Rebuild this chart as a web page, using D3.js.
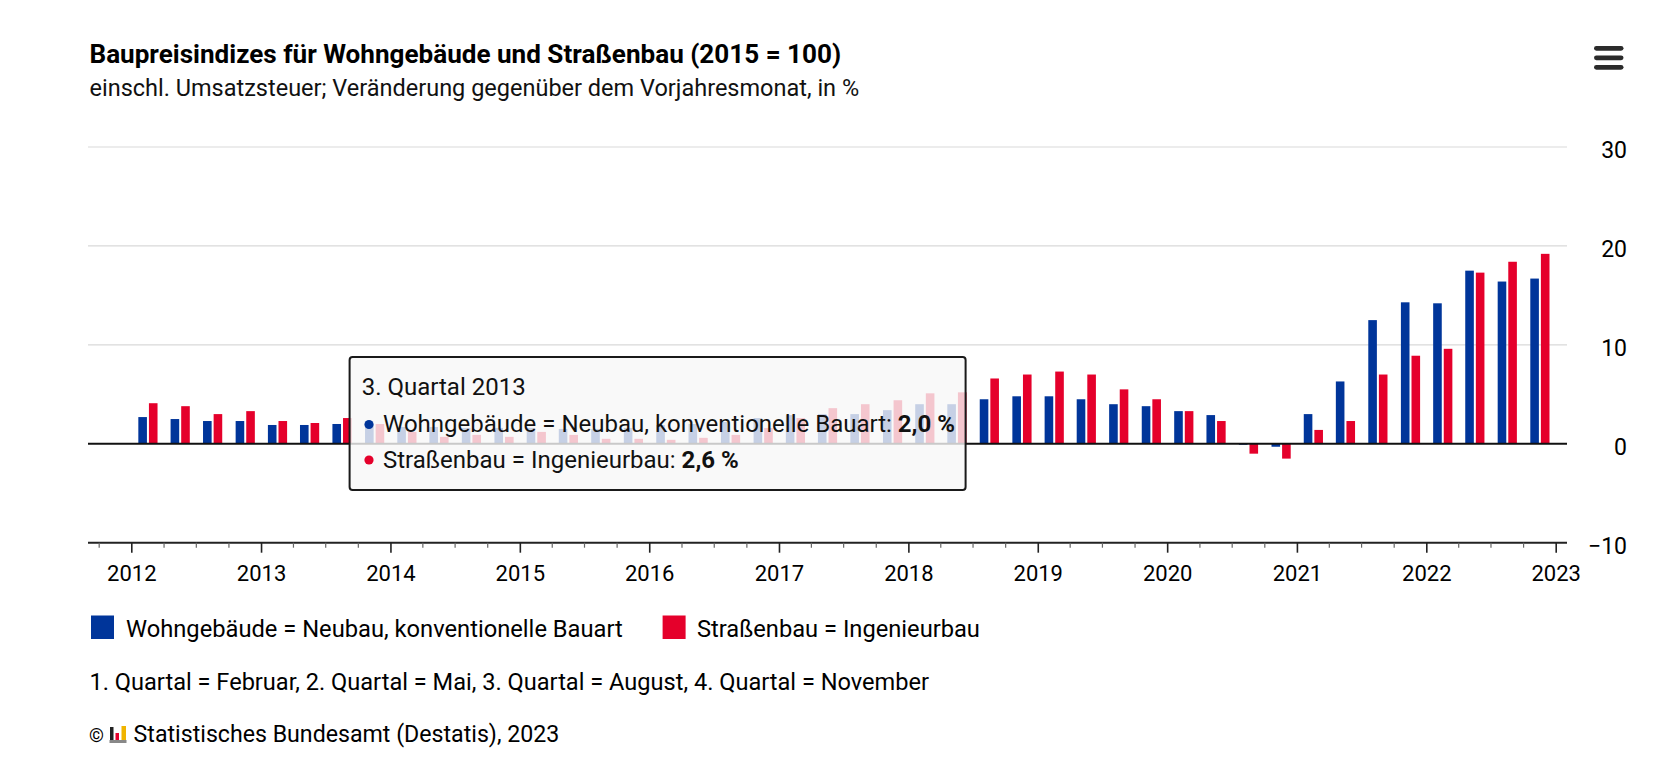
<!DOCTYPE html>
<html><head><meta charset="utf-8">
<script src="https://cdn.jsdelivr.net/npm/d3@7"></script>
<style>
html,body{margin:0;padding:0;background:#fff;}
svg{display:block;font-family:Roboto,"Noto Sans",sans-serif;}
</style>
</head><body>
<svg id="c" width="1671" height="780"></svg>
<script>
// ---------- data ----------
const categories = [
  "1. Quartal 2012","2. Quartal 2012","3. Quartal 2012","4. Quartal 2012",
  "1. Quartal 2013","2. Quartal 2013","3. Quartal 2013","4. Quartal 2013",
  "1. Quartal 2014","2. Quartal 2014","3. Quartal 2014","4. Quartal 2014",
  "1. Quartal 2015","2. Quartal 2015","3. Quartal 2015","4. Quartal 2015",
  "1. Quartal 2016","2. Quartal 2016","3. Quartal 2016","4. Quartal 2016",
  "1. Quartal 2017","2. Quartal 2017","3. Quartal 2017","4. Quartal 2017",
  "1. Quartal 2018","2. Quartal 2018","3. Quartal 2018","4. Quartal 2018",
  "1. Quartal 2019","2. Quartal 2019","3. Quartal 2019","4. Quartal 2019",
  "1. Quartal 2020","2. Quartal 2020","3. Quartal 2020","4. Quartal 2020",
  "1. Quartal 2021","2. Quartal 2021","3. Quartal 2021","4. Quartal 2021",
  "1. Quartal 2022","2. Quartal 2022","3. Quartal 2022","4. Quartal 2022"
];
const wohngebaeude = [
  2.7, 2.5, 2.3, 2.3,
  1.9, 1.9, 2.0, 1.9,
  1.7, 1.7, 1.6, 1.6,
  1.6, 1.5, 1.5, 1.6,
  1.9, 2.0, 2.2, 2.6,
  2.9, 3.0, 3.0, 3.4,
  4.0, 4.0, 4.5, 4.8,
  4.8, 4.5, 4.0, 3.8,
  3.3, 2.9, -0.1, -0.3,
  3.0, 6.3, 12.5, 14.3,
  14.2, 17.5, 16.4, 16.7
];
const strassenbau = [
  4.1, 3.8, 3.0, 3.3,
  2.3, 2.1, 2.6, 2.0,
  1.2, 0.7, 0.9, 0.7,
  1.2, 0.9, 0.5, 0.5,
  0.4, 0.6, 0.9, 1.6,
  2.6, 3.6, 4.0, 4.4,
  5.1, 5.2, 6.6, 7.0,
  7.3, 7.0, 5.5, 4.5,
  3.3, 2.3, -1.0, -1.5,
  1.4, 2.3, 7.0, 8.9,
  9.6, 17.3, 18.4, 19.2
];
const seriesNames = ["Wohngebäude = Neubau, konventionelle Bauart", "Straßenbau = Ingenieurbau"];
const seriesColors = ["#00359a", "#e5002b"];
const yTickValues = [-10, 0, 10, 20, 30];
const yearTicks = ["2012","2013","2014","2015","2016","2017","2018","2019","2020","2021","2022","2023"];
const tooltipIndex = 6;
const titleText = "Baupreisindizes für Wohngebäude und Straßenbau (2015 = 100)";
const subtitleText = "einschl. Umsatzsteuer; Veränderung gegenüber dem Vorjahresmonat, in %";
const noteText = "1. Quartal = Februar, 2. Quartal = Mai, 3. Quartal = August, 4. Quartal = November";
const sourceText = "Statistisches Bundesamt (Destatis), 2023";

// ---------- layout ----------
const svg = d3.select("#c");
const plotL = 88, plotR = 1567;
const de = d3.formatLocale({decimal: ",", thousands: ".", grouping: [3], currency: ["", " €"]});
const fmt = de.format(".1f");

const x = d3.scaleTime()
  .domain([new Date(2012, 0, 1), new Date(2023, 0, 1)])
  .range([131.8, 1556.2]);
const y = d3.scaleLinear().domain([-10, 30]).range([542.7, 147]);

function quarterOf(label) {
  const m = label.match(/^(\d)\. Quartal (\d{4})$/);
  const q = +m[1], yr = +m[2];
  return {start: new Date(yr, (q - 1) * 3, 1), end: new Date(yr, q * 3, 1)};
}
const data = categories.map((c, i) => {
  const q = quarterOf(c);
  return {cat: c, cx: (x(q.start) + x(q.end)) / 2, v: [wohngebaeude[i], strassenbau[i]]};
});

// text helper
function fitText(sel, target) {
  const node = sel.node();
  const w = node.getComputedTextLength();
  const fs = parseFloat(sel.attr("font-size"));
  if (w > 0) sel.attr("font-size", (fs * target / w).toFixed(2));
}

// title & subtitle
svg.append("text").attr("x", 89.5).attr("y", 62.5)
  .attr("font-size", 25).attr("font-weight", 700).attr("fill", "#000")
  .text(titleText).call(fitText, 752);
svg.append("text").attr("x", 89.5).attr("y", 95.5)
  .attr("font-size", 23).attr("fill", "#111")
  .text(subtitleText).call(fitText, 770);

// hamburger menu
[48.3, 57.8, 67.3].forEach(cy => {
  svg.append("rect").attr("x", 1594).attr("y", cy - 2.4).attr("width", 29.5).attr("height", 4.8)
    .attr("rx", 2.4).attr("fill", "#2b2b2b");
});

// grid lines
const g = svg.append("g");
g.selectAll("line.grid").data(yTickValues.filter(v => v > -10 && v !== 0)).join("line")
  .attr("x1", plotL).attr("x2", plotR)
  .attr("y1", d => y(d)).attr("y2", d => y(d))
  .attr("stroke", "#d9d9d9").attr("stroke-width", 1.2);

// y labels (opposite, right aligned)
svg.append("g").selectAll("text").data(yTickValues).join("text")
  .attr("x", 1627).attr("y", d => y(d) + 10.8)
  .attr("text-anchor", "end").attr("font-size", 23).attr("fill", "#000")
  .text(d => d3.format("d")(d));

// bars
const bw = 8.6, gap = 1.0;
const bars = svg.append("g");
[0, 1].forEach(s => {
  bars.selectAll("rect.s" + s).data(data).join("rect")
    .attr("x", d => s === 0 ? d.cx - gap - bw : d.cx + gap)
    .attr("width", bw)
    .attr("y", d => y(Math.max(0, d.v[s])))
    .attr("height", d => Math.abs(y(d.v[s]) - y(0)))
    .attr("fill", seriesColors[s]);
});

// zero line
svg.append("line").attr("x1", plotL).attr("x2", plotR)
  .attr("y1", y(0)).attr("y2", y(0)).attr("stroke", "#111").attr("stroke-width", 2);

// x axis line + ticks
svg.append("line").attr("x1", plotL).attr("x2", plotR)
  .attr("y1", y(-10)).attr("y2", y(-10)).attr("stroke", "#222").attr("stroke-width", 2);
const quarterTicks = d3.timeMonth.every(3).range(new Date(2011, 0, 1), new Date(2023, 1, 1))
  .filter(d => x(d) >= plotL - 0.5 && x(d) <= plotR);
svg.append("g").selectAll("line").data(quarterTicks).join("line")
  .attr("x1", d => x(d)).attr("x2", d => x(d))
  .attr("y1", y(-10)).attr("y2", d => y(-10) + (d.getMonth() === 0 ? 10 : 5))
  .attr("stroke", d => d.getMonth() === 0 ? "#222" : "#666")
  .attr("stroke-width", d => d.getMonth() === 0 ? 1.6 : 1.2);
svg.append("g").selectAll("text").data(yearTicks).join("text")
  .attr("x", d => x(new Date(+d, 0, 1))).attr("y", 581)
  .attr("text-anchor", "middle").attr("font-size", 22).attr("fill", "#000")
  .text(d => d);

// legend
const legend = svg.append("g");
const legendItems = [
  {name: seriesNames[0], color: seriesColors[0], sx: 91, tx: 126, w: 497},
  {name: seriesNames[1], color: seriesColors[1], sx: 662.6, tx: 697, w: 283}
];
legendItems.forEach(it => {
  legend.append("rect").attr("x", it.sx).attr("y", 615.5).attr("width", 23).attr("height", 23.5)
    .attr("fill", it.color);
  legend.append("text").attr("x", it.tx).attr("y", 637).attr("font-size", 24).attr("fill", "#000")
    .text(it.name).call(fitText, it.w);
});

// note + source
svg.append("text").attr("x", 89.5).attr("y", 690).attr("font-size", 23.5).attr("fill", "#000")
  .text(noteText).call(fitText, 840);
svg.append("text").attr("x", 89).attr("y", 742).attr("font-size", 19).attr("fill", "#000").text("©");
const logo = svg.append("g");
logo.append("rect").attr("x", 110).attr("y", 727).attr("width", 3.5).attr("height", 13).attr("fill", "#222");
logo.append("rect").attr("x", 115.5).attr("y", 733).attr("width", 3.5).attr("height", 7).attr("fill", "#e5002b");
logo.append("rect").attr("x", 121.5).attr("y", 726).attr("width", 4.5).attr("height", 14).attr("fill", "#f0b400");
logo.append("rect").attr("x", 109.5).attr("y", 740).attr("width", 17).attr("height", 3).attr("fill", "#888");
svg.append("text").attr("x", 133.6).attr("y", 742).attr("font-size", 24).attr("fill", "#000")
  .text(sourceText).call(fitText, 426);

// tooltip
const tip = svg.append("g");
tip.append("rect").attr("x", 349.6).attr("y", 357).attr("width", 616).attr("height", 133)
  .attr("rx", 3).attr("fill", "#f7f7f7").attr("fill-opacity", 0.8)
  .attr("stroke", "#1a1a1a").attr("stroke-width", 2);
tip.append("text").attr("x", 361.7).attr("y", 395).attr("font-size", 24).attr("fill", "#111")
  .text(categories[tooltipIndex]);
const rows = [
  {cy: 424.5, by: 432, color: seriesColors[0], name: seriesNames[0], v: wohngebaeude[tooltipIndex]},
  {cy: 460, by: 467.5, color: seriesColors[1], name: seriesNames[1], v: strassenbau[tooltipIndex]}
];
rows.forEach(r => {
  tip.append("circle").attr("cx", 369).attr("cy", r.cy).attr("r", 4.6).attr("fill", r.color);
  const t = tip.append("text").attr("x", 383).attr("y", r.by).attr("font-size", 24).attr("fill", "#111");
  t.append("tspan").text(r.name + ": ");
  t.append("tspan").attr("font-weight", 700).text(fmt(r.v) + " %");
});
</script>
</body></html>
